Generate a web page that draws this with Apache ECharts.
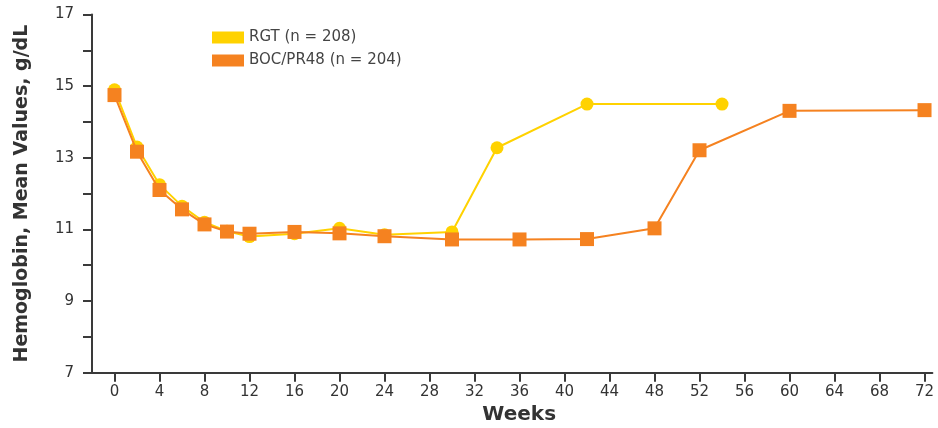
<!DOCTYPE html>
<html>
<head>
<meta charset="utf-8">
<script src="https://cdn.jsdelivr.net/npm/echarts@6/dist/echarts.min.js"></script>
<style>
  html, body { margin: 0; padding: 0; background: #fff; }
  #chart { width: 938px; height: 428px; }
</style>
</head>
<body>
<div id="chart"></div>
<script>
// Mean hemoglobin (g/dL) by treatment week
const rgtWeeks = [0, 2, 4, 6, 8, 10, 12, 16, 20, 24, 30, 34, 42, 54];
const rgtValues = [14.9, 13.3, 12.25, 11.65, 11.2, 10.95, 10.8, 10.88, 11.03, 10.85, 10.93, 13.28, 14.5, 14.5];

const bocWeeks = [0, 2, 4, 6, 8, 10, 12, 16, 20, 24, 30, 36, 42, 48, 52, 60, 72];
const bocValues = [14.75, 13.17, 12.1, 11.56, 11.14, 10.94, 10.88, 10.93, 10.89, 10.81, 10.72, 10.72, 10.73, 11.03, 13.21, 14.31, 14.33];

const weekTicks = [0, 4, 8, 12, 16, 20, 24, 28, 32, 36, 40, 44, 48, 52, 56, 60, 64, 68, 72];
const seriesNames = ['RGT (n = 208)', 'BOC/PR48 (n = 204)'];

const pair = (xs, ys) => xs.map((x, i) => [x, ys[i]]);

const FONT = 'DejaVu Sans';
const AXIS_COLOR = '#3a3a3a';
const YELLOW = '#FFD200';
const ORANGE = '#F58220';

const chart = echarts.init(document.getElementById('chart'), null, { renderer: 'canvas' });

chart.setOption({
  animation: false,
  backgroundColor: '#ffffff',
  textStyle: { fontFamily: FONT },
  grid: { left: 92, right: 5.6, top: 14.5, bottom: 55.3, containLabel: false, outerBoundsMode: 'none' },
  legend: {
    orient: 'vertical',
    left: 212,
    top: 30,
    padding: 0,
    itemWidth: 32,
    itemHeight: 12,
    itemGap: 8,
    icon: 'rect',
    textStyle: { fontFamily: FONT, fontSize: 15, color: '#444' },
    data: [
      { name: seriesNames[0], itemStyle: { color: YELLOW } },
      { name: seriesNames[1], itemStyle: { color: ORANGE } }
    ]
  },
  xAxis: {
    type: 'value',
    min: -2,
    max: 72.7,
    name: 'Weeks',
    nameLocation: 'middle',
    nameGap: 30,
    nameTextStyle: { fontFamily: FONT, fontSize: 20, fontWeight: 'bold', color: '#333', padding: [0, 0, 0, 14] },
    axisLine: { show: true, onZero: false, lineStyle: { color: AXIS_COLOR, width: 2 } },
    axisTick: { show: true, length: 9, customValues: weekTicks, lineStyle: { color: AXIS_COLOR, width: 2 } },
    axisLabel: { customValues: weekTicks, fontFamily: FONT, fontSize: 15, color: '#333', margin: 12 },
    splitLine: { show: false }
  },
  yAxis: {
    type: 'value',
    min: 7,
    max: 17,
    interval: 1,
    name: 'Hemoglobin, Mean Values, g/dL',
    nameLocation: 'middle',
    nameGap: 60,
    nameTextStyle: { fontFamily: FONT, fontSize: 19, fontWeight: 'bold', color: '#333' },
    axisLine: { show: true, onZero: false, lineStyle: { color: AXIS_COLOR, width: 2 } },
    axisTick: { show: true, length: 9, lineStyle: { color: AXIS_COLOR, width: 2 } },
    axisLabel: {
      fontFamily: FONT, fontSize: 15, color: '#333', margin: 18,
      formatter: v => (v % 2 === 1 ? String(v) : '')
    },
    splitLine: { show: false }
  },
  series: [
    {
      name: seriesNames[0],
      type: 'line',
      data: pair(rgtWeeks, rgtValues),
      symbol: 'circle',
      symbolSize: 13,
      color: YELLOW,
      lineStyle: { color: YELLOW, width: 2 },
      itemStyle: { color: YELLOW },
      z: 2
    },
    {
      name: seriesNames[1],
      type: 'line',
      data: pair(bocWeeks, bocValues),
      symbol: 'rect',
      symbolSize: 14,
      color: ORANGE,
      lineStyle: { color: ORANGE, width: 2 },
      itemStyle: { color: ORANGE },
      z: 3
    }
  ]
});
</script>
</body>
</html>
